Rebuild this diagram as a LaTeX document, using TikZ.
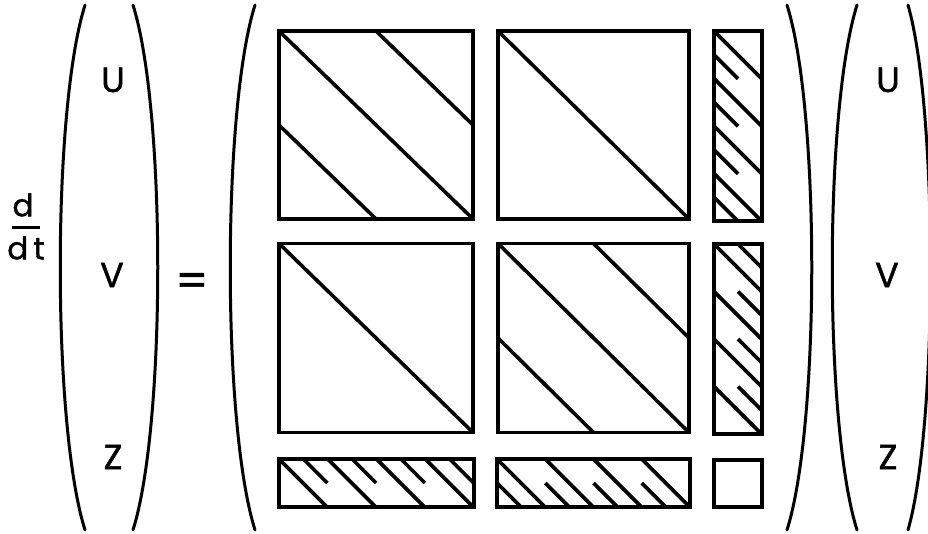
\documentclass[tikz,border=0pt]{standalone}
\usepackage{fontspec}
\setmainfont{Poppins}
\newfontfamily\gfont{Poppins}[FakeBold=1.2]
\usetikzlibrary{positioning}

\begin{document}
\begin{tikzpicture}[
  x=1pt, y=-1pt,
  txt/.style={font=\gfont\fontsize{35}{38}\selectfont, inner sep=0pt},
  paren/.style={line width=3pt, line cap=round},
  blk/.style={draw, line width=3.8pt, inner sep=0pt, outer sep=0pt},
  hatch/.style={line width=3.6pt}
]
  \useasboundingbox (0,0) rectangle (928,534);

  % left hand side
  \node[txt, font=\gfont\fontsize{31}{34}\selectfont] (dnum) at (23,205) {d};
  \node[txt, font=\gfont\fontsize{31}{34}\selectfont] (dden) at (26,248) {d\,t};
  \draw[line width=3pt] (12,228) -- (40,228);
  \draw[paren] (85,5) .. controls (52,110) and (52,425) .. (85,530);
  \draw[paren] (133,5) .. controls (166,110) and (166,425) .. (133,530);
  \node[txt] (u1) at (113,80) {U};
  \node[txt] (v1) at (112,275) {V};
  \node[txt] (z1) at (113,457) {Z};
  \node[txt, font=\gfont\fontsize{46}{48}\selectfont] (eq) at (192,285) {=};

  % the matrix
  \draw[paren] (255,5) .. controls (222,110) and (222,425) .. (255,530);
  \draw[paren] (787,5) .. controls (820,110) and (820,425) .. (787,530);

  \node[blk, minimum width=194pt, minimum height=188pt] (a11) at (376,125) {};
  \node[blk, minimum width=191pt, minimum height=188pt] (a12) at (593.5,125) {};
  \node[blk, minimum width=194pt, minimum height=189pt] (a21) at (376,338) {};
  \node[blk, minimum width=191pt, minimum height=189pt] (a22) at (593.5,338) {};

  \draw[hatch] (a11.north west) -- (a11.south east);
  \draw[hatch] (a11.north) -- (a11.east);
  \draw[hatch] (a11.west) -- (a11.south);
  \draw[hatch] (a12.north west) -- (a12.south east);
  \draw[hatch] (a21.north west) -- (a21.south east);
  \draw[hatch] (a22.north west) -- (a22.south east);
  \draw[hatch] (a22.north) -- (a22.east);
  \draw[hatch] (a22.west) -- (a22.south);

  \node[blk, minimum width=48pt, minimum height=190pt] (r1) at (738,126) {};
  \node[blk, minimum width=48pt, minimum height=190pt] (r2) at (738,339) {};
  \node[blk, minimum width=195pt, minimum height=48pt] (b1) at (376.5,483) {};
  \node[blk, minimum width=193pt, minimum height=48pt] (b2) at (593.5,483) {};
  \node[blk, minimum width=48pt, minimum height=47pt] (c) at (738,483.5) {};

  \begin{scope}[shift={(r1.north west)}]
    \clip (0,0) rectangle (48,190);
    \foreach \k in {0,...,3} {
      \draw[hatch] (0,47.5*\k) -- ++(48,48);
      \draw[hatch] (0,47.5*\k+23.75) -- ++(24,24);
    }
  \end{scope}
  \begin{scope}[shift={(r2.north west)}]
    \clip (0,0) rectangle (48,190);
    \foreach \k in {0,...,3} {
      \draw[hatch] (0,47.5*\k) -- ++(48,48);
      \draw[hatch] (24,47.5*\k) -- ++(24,24);
    }
  \end{scope}
  \begin{scope}[shift={(b1.north west)}]
    \clip (0,0) rectangle (195,48);
    \foreach \k in {0,...,3} {
      \draw[hatch] (48.75*\k,0) -- ++(48,48);
      \draw[hatch] (48.75*\k+24.4,0) -- ++(24,24);
    }
  \end{scope}
  \begin{scope}[shift={(b2.north west)}]
    \clip (0,0) rectangle (193,48);
    \foreach \k in {0,...,3} {
      \draw[hatch] (48.25*\k,0) -- ++(48,48);
      \draw[hatch] (48.25*\k,24) -- ++(24,24);
    }
  \end{scope}

  % right hand side
  \draw[paren] (857,5) .. controls (824,110) and (824,425) .. (857,530);
  \draw[paren] (908,5) .. controls (938,110) and (938,425) .. (908,530);
  \node[txt] (u2) at (888,80) {U};
  \node[txt] (v2) at (887,275) {V};
  \node[txt] (z2) at (888,457) {Z};
\end{tikzpicture}
\end{document}
